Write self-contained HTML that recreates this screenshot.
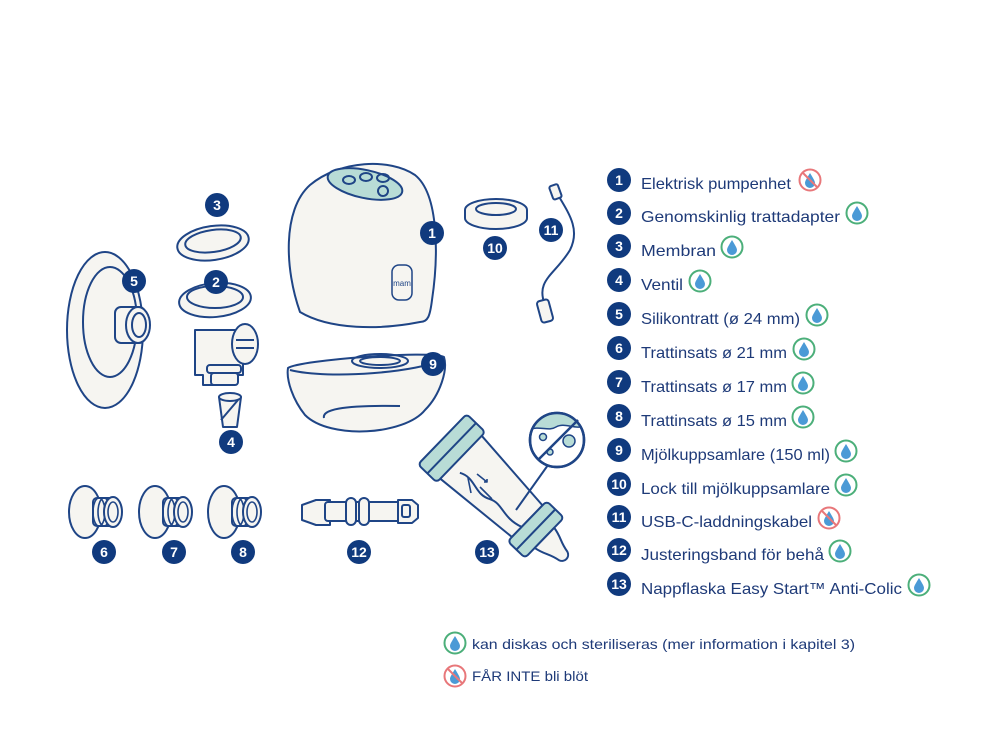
<!DOCTYPE html>
<html><head><meta charset="utf-8"><style>
html,body{margin:0;padding:0;background:#fff;}
svg{display:block;}
text{font-family:"Liberation Sans",sans-serif;}
</style></head><body>
<svg width="1000" height="750" viewBox="0 0 1000 750" xmlns="http://www.w3.org/2000/svg">
<defs>
<clipPath id="mag"><circle cx="557" cy="440" r="26"/></clipPath>
<g id="ok"><circle r="10.5" fill="#fff" stroke="#4caf7a" stroke-width="2"/><path d="M0,-7 C3,-2 5,1 5,3 A5,5 0 0 1 -5,3 C-5,1 -3,-2 0,-7Z" fill="#4b9ad6"/></g>
<g id="no"><circle r="10.5" fill="#fff" stroke="#e8777a" stroke-width="2"/><path d="M0,-7 C3,-2 5,1 5,3 A5,5 0 0 1 -5,3 C-5,1 -3,-2 0,-7Z" fill="#4b9ad6"/><line x1="-7.5" y1="-7.5" x2="7.5" y2="7.5" stroke="#e8777a" stroke-width="2"/></g>
<g id="small">
<ellipse cx="0" cy="0" rx="16" ry="26" fill="#f6f5f1" stroke="#1f4586" stroke-width="2"/>
<rect x="8" y="-14" width="22" height="28" rx="4" fill="#f6f5f1" stroke="#1f4586" stroke-width="2"/>
<ellipse cx="14" cy="0" rx="6" ry="14" fill="none" stroke="#1f4586" stroke-width="1.6"/>
<ellipse cx="19" cy="0" rx="6" ry="14" fill="none" stroke="#1f4586" stroke-width="1.6"/>
<ellipse cx="28" cy="0" rx="9" ry="15" fill="#f6f5f1" stroke="#1f4586" stroke-width="2"/>
<ellipse cx="28" cy="0" rx="5" ry="10" fill="none" stroke="#1f4586" stroke-width="1.6"/>
</g>
</defs>
<g stroke="#1f4586" stroke-width="2" fill="#f6f5f1" stroke-linejoin="round">
<!-- pump body 1 -->
<path d="M300,312 C285,270 282,210 310,185 C340,160 390,158 415,175 C440,195 438,260 432,300 C430,316 428,322 420,322 C380,330 330,330 300,312Z"/>
<ellipse cx="365" cy="184" rx="38" ry="14" transform="rotate(12 365 184)" fill="#b8dcd6"/>
<ellipse cx="349" cy="180" rx="6" ry="4" fill="none"/>
<ellipse cx="366" cy="177" rx="6" ry="4" fill="none"/>
<ellipse cx="383" cy="178" rx="6" ry="4" fill="none"/>
<ellipse cx="383" cy="191" rx="5" ry="5" transform="rotate(30 383 191)" fill="none"/>
<rect x="392" y="265" width="20" height="35" rx="7" stroke-width="1.5"/>
<text x="402" y="286" font-size="8" fill="#1f4586" stroke="none" text-anchor="middle">mam</text>
<!-- collector 9 -->
<path d="M288,368 C300,360 430,350 444,357 C448,370 440,395 425,410 C405,435 330,440 305,415 C293,400 286,380 288,368Z"/>
<path d="M290,370 C330,380 420,372 444,359" fill="none"/>
<ellipse cx="380" cy="361" rx="28" ry="7" fill="none"/>
<ellipse cx="380" cy="361" rx="20" ry="4" fill="none"/>
<path d="M324,418 C322,410 340,405 400,406" fill="none"/>
<!-- lid 10 -->
<ellipse cx="496" cy="210" rx="31" ry="11" stroke-width="2"/>
<path d="M465,210 v8 a31,11 0 0 0 62,0 v-8" />
<ellipse cx="496" cy="209" rx="20" ry="6" fill="none"/>
<!-- cable 11 -->
<path d="M558,195 C570,215 580,230 570,250 C555,275 535,280 545,305" fill="none"/>
<rect x="551" y="185" width="9" height="14" rx="2" transform="rotate(-20 555 192)"/>
<rect x="539" y="300" width="12" height="22" rx="3" transform="rotate(-15 545 311)"/>
<!-- breast shield 5 -->
<ellipse cx="105" cy="330" rx="38" ry="78"/>
<ellipse cx="110" cy="322" rx="27" ry="55" fill="none"/>
<rect x="115" y="307" width="30" height="36" rx="6"/>
<ellipse cx="138" cy="325" rx="12" ry="18"/>
<ellipse cx="139" cy="325" rx="7" ry="12" fill="none"/>
<!-- membrane 3 -->
<ellipse cx="213" cy="243" rx="36" ry="17" transform="rotate(-8 213 243)"/>
<ellipse cx="213" cy="241" rx="28" ry="11" transform="rotate(-8 213 241)" fill="none"/>
<!-- adapter 2 -->
<path d="M195,330 h48 v45 h-10 v10 h-30 v-10 h-8Z"/>
<ellipse cx="245" cy="344" rx="13" ry="20"/>
<path d="M236,340 h18 M236,348 h18" fill="none"/>
<ellipse cx="215" cy="300" rx="36" ry="17" transform="rotate(-5 215 300)"/>
<ellipse cx="215" cy="297" rx="28" ry="11" fill="none"/>
<rect x="207" y="365" width="34" height="8" rx="3"/>
<rect x="211" y="373" width="27" height="12" rx="3"/>
<!-- valve 4 -->
<path d="M219,397 h22 l-4,30 h-14Z"/>
<ellipse cx="230" cy="397" rx="11" ry="4"/>
<path d="M221,420 L238,400" fill="none"/>
<!-- small shields -->
<use href="#small" x="85" y="512"/>
<use href="#small" x="155" y="512"/>
<use href="#small" x="224" y="512"/>
<!-- strap 12 -->
<path d="M302,505 l14,-5 h14 v25 h-14 l-14,-5Z"/>
<rect x="325" y="502" width="80" height="19" rx="3"/>
<rect x="346" y="498" width="10" height="27" rx="5"/>
<rect x="359" y="498" width="10" height="27" rx="5"/>
<path d="M398,500 h14 l6,5 v13 l-6,5 h-14Z"/>
<rect x="402" y="505" width="8" height="12" rx="2" fill="none"/>
<!-- bottle 13 -->
<g transform="translate(497,492) rotate(44)">
<path d="M-52,-30 L42,-22 L42,22 L-52,30Z"/>
<path d="M-40,12 C-25,4 -15,18 0,10 C12,4 22,15 42,8" fill="none"/>
<rect x="-76" y="-35" width="26" height="70" rx="4" fill="#b8dcd6"/>
<line x1="-63" y1="-35" x2="-63" y2="35"/>
<rect x="42" y="-28" width="24" height="56" rx="4" fill="#b8dcd6"/>
<line x1="54" y1="-28" x2="54" y2="28"/>
<path d="M66,-14 C78,-12 80,-8 92,-6 C98,-4 98,4 92,6 C80,8 78,12 66,14Z"/>
</g>
<path d="M477,474 l10,8 m-3,0 l3,0 l0,-3 M468,478 l3,15 M480,487 l12,12" fill="none" stroke-width="1.6"/>
<line x1="516" y1="510" x2="548" y2="465" fill="none"/>
<circle cx="557" cy="440" r="27" fill="#fff" stroke-width="2.5"/>
<path clip-path="url(#mag)" d="M528,430 C540,425 548,432 556,427 C565,422 574,430 586,426 L586,410 L528,410Z" fill="#b8dcd6" stroke="none"/>
<path clip-path="url(#mag)" d="M528,430 C540,425 548,432 556,427 C565,422 574,430 586,426" fill="none" stroke-width="1.5"/>
<circle cx="557" cy="440" r="27" fill="none" stroke-width="2.5"/>
<circle cx="543" cy="437" r="3.5" fill="#b8dcd6" stroke-width="1.5"/>
<circle cx="569" cy="441" r="6" fill="#b8dcd6" stroke-width="1.5"/>
<circle cx="550" cy="452" r="3" fill="#b8dcd6" stroke-width="1.5"/>
<line x1="538" y1="460" x2="578" y2="420" stroke-width="2.5"/>
</g>
<!-- badges -->
<g fill="#103a7e">
<circle cx="432" cy="233" r="12"/><circle cx="216" cy="282" r="12"/><circle cx="217" cy="205" r="12"/>
<circle cx="231" cy="442" r="12"/><circle cx="134" cy="281" r="12"/><circle cx="104" cy="552" r="12"/>
<circle cx="174" cy="552" r="12"/><circle cx="243" cy="552" r="12"/><circle cx="433" cy="364" r="12"/>
<circle cx="495" cy="248" r="12"/><circle cx="551" cy="230" r="12"/><circle cx="359" cy="552" r="12"/>
<circle cx="487" cy="552" r="12"/>
</g>
<g fill="#fff" font-size="14" font-weight="bold" text-anchor="middle">
<text x="432" y="238">1</text><text x="216" y="287">2</text><text x="217" y="210">3</text>
<text x="231" y="447">4</text><text x="134" y="286">5</text><text x="104" y="557">6</text>
<text x="174" y="557">7</text><text x="243" y="557">8</text><text x="433" y="369">9</text>
<text x="495" y="253">10</text><text x="551" y="235">11</text><text x="359" y="557">12</text>
<text x="487" y="557">13</text>
</g>
<!-- legend -->
<g fill="#103a7e">
<circle cx="619" cy="180" r="12"/><circle cx="619" cy="213" r="12"/><circle cx="619" cy="246" r="12"/>
<circle cx="619" cy="280" r="12"/><circle cx="619" cy="314" r="12"/><circle cx="619" cy="348" r="12"/>
<circle cx="619" cy="382" r="12"/><circle cx="619" cy="416" r="12"/><circle cx="619" cy="450" r="12"/>
<circle cx="619" cy="484" r="12"/><circle cx="619" cy="517" r="12"/><circle cx="619" cy="550" r="12"/>
<circle cx="619" cy="584" r="12"/>
</g>
<g fill="#fff" font-size="14" font-weight="bold" text-anchor="middle">
<text x="619" y="185">1</text><text x="619" y="218">2</text><text x="619" y="251">3</text>
<text x="619" y="285">4</text><text x="619" y="319">5</text><text x="619" y="353">6</text>
<text x="619" y="387">7</text><text x="619" y="421">8</text><text x="619" y="455">9</text>
<text x="619" y="489">10</text><text x="619" y="522">11</text><text x="619" y="555">12</text>
<text x="619" y="589">13</text>
</g>
<g fill="#1e3a78" font-size="16">
<text x="641" y="189" textLength="150" lengthAdjust="spacingAndGlyphs">Elektrisk pumpenhet</text>
<text x="641" y="222" textLength="199" lengthAdjust="spacingAndGlyphs">Genomskinlig trattadapter</text>
<text x="641" y="256" textLength="75" lengthAdjust="spacingAndGlyphs">Membran</text>
<text x="641" y="290" textLength="42" lengthAdjust="spacingAndGlyphs">Ventil</text>
<text x="641" y="324" textLength="159" lengthAdjust="spacingAndGlyphs">Silikontratt (ø 24 mm)</text>
<text x="641" y="358" textLength="146" lengthAdjust="spacingAndGlyphs">Trattinsats ø 21 mm</text>
<text x="641" y="392" textLength="146" lengthAdjust="spacingAndGlyphs">Trattinsats ø 17 mm</text>
<text x="641" y="426" textLength="146" lengthAdjust="spacingAndGlyphs">Trattinsats ø 15 mm</text>
<text x="641" y="460" textLength="189" lengthAdjust="spacingAndGlyphs">Mjölkuppsamlare (150 ml)</text>
<text x="641" y="494" textLength="189" lengthAdjust="spacingAndGlyphs">Lock till mjölkuppsamlare</text>
<text x="641" y="527" textLength="171" lengthAdjust="spacingAndGlyphs">USB-C-laddningskabel</text>
<text x="641" y="560" textLength="183" lengthAdjust="spacingAndGlyphs">Justeringsband för behå</text>
<text x="641" y="594" textLength="261" lengthAdjust="spacingAndGlyphs">Nappflaska Easy Start™ Anti-Colic</text>
<text x="472" y="649" font-size="14" textLength="383" lengthAdjust="spacingAndGlyphs">kan diskas och steriliseras (mer information i kapitel 3)</text>
<text x="472" y="681" font-size="14" textLength="116" lengthAdjust="spacingAndGlyphs">FÅR INTE bli blöt</text>
</g>
<use href="#no" x="810" y="180"/>
<use href="#ok" x="857" y="213"/>
<use href="#ok" x="732" y="247"/>
<use href="#ok" x="700" y="281"/>
<use href="#ok" x="817" y="315"/>
<use href="#ok" x="804" y="349"/>
<use href="#ok" x="803" y="383"/>
<use href="#ok" x="803" y="417"/>
<use href="#ok" x="846" y="451"/>
<use href="#ok" x="846" y="485"/>
<use href="#no" x="829" y="518"/>
<use href="#ok" x="840" y="551"/>
<use href="#ok" x="919" y="585"/>
<use href="#ok" x="455" y="643"/>
<use href="#no" x="455" y="676"/>
</svg>
</body></html>
